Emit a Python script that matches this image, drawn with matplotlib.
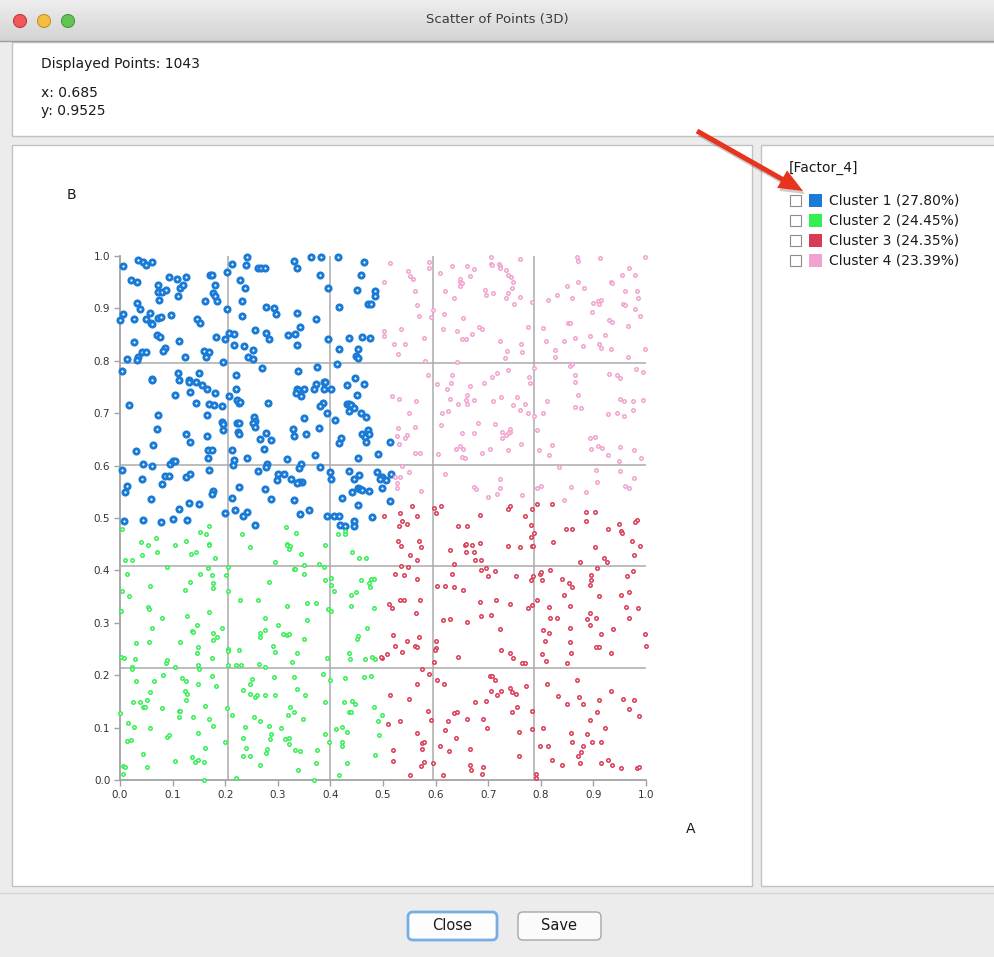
import numpy as np
import matplotlib.pyplot as plt
from matplotlib.patches import Rectangle, Circle, FancyBboxPatch, FancyArrow
from matplotlib.transforms import IdentityTransform
from matplotlib.colors import LinearSegmentedColormap

plt.rcParams['font.family'] = ['DejaVu Sans']

W, H = 995, 957

# ---- data ----
window_title = "Scatter of Points (3D)"
displayed_points = 1043
cursor_x = "0.685"
cursor_y = "0.9525"
factor_name = "[Factor_4]"
cluster_names = ["Cluster 1", "Cluster 2", "Cluster 3", "Cluster 4"]
cluster_pcts = [27.80, 24.45, 24.35, 23.39]
cluster_colors = ["#1a7bd6", "#35ee52", "#d93a54", "#f2a2d0"]
tick_values = [0.0, 0.1, 0.2, 0.3, 0.4, 0.5, 0.6, 0.7, 0.8, 0.9, 1.0]
tick_labels = ["0.0", "0.1", "0.2", "0.3", "0.4", "0.5", "0.6", "0.7", "0.8", "0.9", "1.0"]
grid_x = [0.205, 0.400, 0.596, 0.788]
grid_y = [0.213, 0.409, 0.602, 0.795]

# cluster 1 (blue)
cluster1 = [
    (0.005, 0.980), (0.035, 0.992), (0.044, 0.989), (0.049, 0.983), (0.060, 0.989), (0.020, 0.954),
    (0.033, 0.951), (0.073, 0.945), (0.073, 0.932), (0.079, 0.932), (0.087, 0.936), (0.075, 0.916),
    (0.093, 0.959), (0.108, 0.957), (0.125, 0.959), (0.110, 0.924), (0.115, 0.938), (0.120, 0.944),
    (0.171, 0.964), (0.174, 0.964), (0.203, 0.970), (0.181, 0.944), (0.177, 0.930), (0.180, 0.924),
    (0.185, 0.914), (0.162, 0.914), (0.032, 0.911), (0.038, 0.898), (0.005, 0.889), (0.000, 0.877),
    (0.027, 0.880), (0.049, 0.879), (0.057, 0.892), (0.058, 0.873), (0.061, 0.870), (0.073, 0.881),
    (0.077, 0.883), (0.097, 0.887), (0.147, 0.880), (0.152, 0.872), (0.213, 0.985), (0.240, 0.982),
    (0.242, 0.998), (0.263, 0.977), (0.269, 0.977), (0.276, 0.977), (0.330, 0.991), (0.336, 0.977),
    (0.364, 0.998), (0.382, 0.999), (0.380, 0.964), (0.396, 0.938), (0.415, 0.999), (0.463, 0.989),
    (0.459, 0.964), (0.450, 0.936), (0.485, 0.934), (0.485, 0.924), (0.472, 0.908), (0.477, 0.908),
    (0.417, 0.903), (0.373, 0.879), (0.336, 0.892), (0.342, 0.865), (0.297, 0.889), (0.292, 0.900),
    (0.278, 0.903), (0.229, 0.954), (0.238, 0.938), (0.232, 0.914), (0.204, 0.898), (0.232, 0.886),
    (0.257, 0.859), (0.277, 0.854), (0.283, 0.841), (0.320, 0.849), (0.333, 0.851), (0.336, 0.830),
    (0.396, 0.841), (0.435, 0.844), (0.461, 0.846), (0.475, 0.843), (0.417, 0.823), (0.453, 0.822),
    (0.449, 0.810), (0.453, 0.805), (0.207, 0.854), (0.216, 0.851), (0.200, 0.841), (0.183, 0.846),
    (0.217, 0.831), (0.235, 0.828), (0.252, 0.821), (0.244, 0.807), (0.252, 0.804), (0.160, 0.819),
    (0.169, 0.816), (0.164, 0.807), (0.123, 0.807), (0.113, 0.838), (0.070, 0.849), (0.076, 0.845),
    (0.086, 0.824), (0.082, 0.819), (0.041, 0.816), (0.049, 0.816), (0.035, 0.807), (0.032, 0.802),
    (0.013, 0.804), (0.027, 0.836), (0.195, 0.798), (0.270, 0.786), (0.339, 0.781), (0.374, 0.789),
    (0.412, 0.793), (0.447, 0.768), (0.221, 0.773), (0.151, 0.776), (0.131, 0.763), (0.111, 0.776),
    (0.060, 0.766), (0.003, 0.781),
    (0.387, 0.760), (0.390, 0.760), (0.373, 0.755), (0.368, 0.746), (0.336, 0.747), (0.339, 0.744),
    (0.350, 0.746), (0.335, 0.738), (0.345, 0.733), (0.402, 0.746), (0.387, 0.746), (0.431, 0.753),
    (0.463, 0.756), (0.450, 0.735), (0.432, 0.718), (0.436, 0.718), (0.440, 0.716), (0.435, 0.705),
    (0.444, 0.710), (0.459, 0.700), (0.468, 0.693), (0.393, 0.700), (0.409, 0.687), (0.385, 0.720),
    (0.380, 0.713), (0.378, 0.672), (0.350, 0.690), (0.354, 0.660), (0.328, 0.669), (0.330, 0.656),
    (0.370, 0.620), (0.345, 0.604), (0.340, 0.595), (0.380, 0.597), (0.318, 0.612), (0.282, 0.719),
    (0.255, 0.693), (0.257, 0.685), (0.252, 0.681), (0.256, 0.674), (0.278, 0.663), (0.267, 0.650),
    (0.288, 0.648), (0.273, 0.632), (0.241, 0.615), (0.217, 0.611), (0.214, 0.602), (0.213, 0.630),
    (0.208, 0.732), (0.221, 0.747), (0.222, 0.725), (0.226, 0.719), (0.228, 0.722), (0.222, 0.681),
    (0.226, 0.682), (0.193, 0.684), (0.195, 0.679), (0.195, 0.668), (0.224, 0.665), (0.227, 0.660),
    (0.193, 0.714), (0.170, 0.718), (0.179, 0.715), (0.145, 0.720), (0.165, 0.696), (0.165, 0.657),
    (0.167, 0.630), (0.175, 0.630), (0.167, 0.615), (0.170, 0.592), (0.180, 0.738), (0.166, 0.747),
    (0.156, 0.753), (0.145, 0.760), (0.131, 0.760), (0.113, 0.763), (0.105, 0.735), (0.133, 0.740),
    (0.061, 0.763), (0.018, 0.716), (0.072, 0.696), (0.070, 0.670), (0.126, 0.660), (0.133, 0.645),
    (0.062, 0.640), (0.030, 0.627), (0.043, 0.604), (0.061, 0.600), (0.096, 0.604), (0.101, 0.608),
    (0.105, 0.609), (0.003, 0.592), (0.041, 0.575), (0.013, 0.562), (0.010, 0.550), (0.080, 0.564),
    (0.085, 0.580), (0.094, 0.580), (0.126, 0.579), (0.134, 0.584), (0.176, 0.552), (0.174, 0.546),
    (0.226, 0.560), (0.213, 0.539), (0.275, 0.555), (0.288, 0.537), (0.330, 0.534), (0.263, 0.590),
    (0.279, 0.604), (0.277, 0.597), (0.301, 0.584), (0.311, 0.584), (0.299, 0.573), (0.326, 0.575),
    (0.346, 0.569), (0.341, 0.568), (0.337, 0.566), (0.399, 0.587), (0.402, 0.574), (0.435, 0.590),
    (0.445, 0.574), (0.454, 0.582), (0.488, 0.588), (0.498, 0.578), (0.494, 0.574), (0.498, 0.557),
    (0.491, 0.622), (0.453, 0.615), (0.420, 0.653), (0.417, 0.643), (0.461, 0.660), (0.466, 0.655),
    (0.468, 0.645), (0.472, 0.667), (0.474, 0.660), (0.452, 0.557), (0.456, 0.555), (0.460, 0.553),
    (0.473, 0.552), (0.442, 0.550), (0.423, 0.539), (0.452, 0.524), (0.058, 0.537), (0.113, 0.517),
    (0.131, 0.529), (0.151, 0.527), (0.200, 0.509), (0.219, 0.515), (0.242, 0.511), (0.359, 0.515),
    (0.342, 0.508),
    (0.513, 0.645), (0.505, 0.573), (0.516, 0.584), (0.513, 0.532),
    (0.008, 0.494), (0.044, 0.497), (0.077, 0.492), (0.100, 0.499), (0.128, 0.497), (0.233, 0.504),
    (0.257, 0.487), (0.393, 0.504), (0.407, 0.504), (0.417, 0.504), (0.418, 0.487), (0.428, 0.484),
    (0.444, 0.494), (0.444, 0.484), (0.480, 0.501),
]

# cluster 2 (green)
cluster2 = [
    (0.003, 0.479), (0.010, 0.419), (0.022, 0.419), (0.040, 0.454), (0.053, 0.448), (0.068, 0.461),
    (0.070, 0.436), (0.042, 0.429), (0.105, 0.448), (0.126, 0.457), (0.135, 0.431), (0.145, 0.436),
    (0.152, 0.474), (0.163, 0.469), (0.170, 0.484), (0.170, 0.451), (0.170, 0.448), (0.180, 0.424),
    (0.232, 0.469), (0.247, 0.444), (0.315, 0.482), (0.317, 0.451), (0.318, 0.448), (0.323, 0.447),
    (0.321, 0.441), (0.335, 0.471), (0.345, 0.431), (0.295, 0.416), (0.350, 0.411), (0.330, 0.403),
    (0.333, 0.403), (0.378, 0.413), (0.388, 0.406), (0.390, 0.448), (0.415, 0.469), (0.428, 0.475),
    (0.428, 0.469), (0.441, 0.436), (0.455, 0.424), (0.468, 0.424), (0.090, 0.406), (0.167, 0.404),
    (0.205, 0.406), (0.013, 0.393), (0.057, 0.371), (0.003, 0.361), (0.018, 0.351), (0.134, 0.378),
    (0.123, 0.363), (0.152, 0.394), (0.175, 0.391), (0.177, 0.376), (0.177, 0.366), (0.202, 0.391),
    (0.205, 0.361), (0.283, 0.378), (0.350, 0.393), (0.390, 0.381), (0.402, 0.386), (0.402, 0.373),
    (0.406, 0.361), (0.440, 0.353), (0.448, 0.358), (0.458, 0.381), (0.473, 0.376), (0.475, 0.368),
    (0.478, 0.384), (0.483, 0.384), (0.002, 0.323), (0.053, 0.331), (0.055, 0.326), (0.080, 0.310),
    (0.128, 0.313), (0.147, 0.296), (0.170, 0.321), (0.060, 0.291), (0.137, 0.285), (0.138, 0.283),
    (0.193, 0.291), (0.177, 0.281), (0.177, 0.268), (0.185, 0.273), (0.030, 0.261), (0.055, 0.263),
    (0.115, 0.263), (0.228, 0.343), (0.263, 0.343), (0.318, 0.333), (0.356, 0.338), (0.373, 0.338),
    (0.395, 0.326), (0.402, 0.323), (0.440, 0.333), (0.483, 0.328), (0.275, 0.310), (0.300, 0.296),
    (0.355, 0.305), (0.276, 0.286), (0.267, 0.280), (0.266, 0.273), (0.309, 0.278), (0.317, 0.277),
    (0.321, 0.278), (0.350, 0.270), (0.470, 0.291), (0.453, 0.275), (0.450, 0.270), (0.148, 0.253),
    (0.205, 0.250), (0.290, 0.256),
    (0.001, 0.235), (0.008, 0.233), (0.028, 0.230), (0.023, 0.215), (0.023, 0.211), (0.030, 0.188),
    (0.057, 0.167), (0.065, 0.188), (0.081, 0.200), (0.080, 0.137), (0.038, 0.149), (0.043, 0.139),
    (0.048, 0.140), (0.052, 0.153), (0.025, 0.148), (0.105, 0.215), (0.087, 0.223), (0.089, 0.229),
    (0.146, 0.243), (0.148, 0.219), (0.150, 0.211), (0.175, 0.233), (0.117, 0.195), (0.125, 0.188),
    (0.124, 0.170), (0.127, 0.165), (0.125, 0.153), (0.148, 0.183), (0.175, 0.198), (0.183, 0.180),
    (0.162, 0.142), (0.112, 0.121), (0.113, 0.131), (0.114, 0.132), (0.138, 0.120), (0.170, 0.117),
    (0.177, 0.104), (0.148, 0.090), (0.000, 0.127), (0.015, 0.108), (0.027, 0.102), (0.057, 0.099),
    (0.089, 0.083), (0.093, 0.085), (0.020, 0.076), (0.013, 0.074), (0.044, 0.049), (0.052, 0.024),
    (0.005, 0.027), (0.010, 0.024), (0.005, 0.011), (0.105, 0.037), (0.137, 0.043), (0.142, 0.034),
    (0.148, 0.038), (0.160, 0.034), (0.162, 0.062), (0.160, 0.000), (0.200, 0.072), (0.204, 0.137),
    (0.212, 0.124), (0.221, 0.003), (0.234, 0.172), (0.237, 0.102), (0.234, 0.080), (0.240, 0.062),
    (0.234, 0.046), (0.247, 0.046), (0.247, 0.183), (0.251, 0.193), (0.247, 0.165), (0.257, 0.158),
    (0.260, 0.163), (0.255, 0.120), (0.267, 0.112), (0.267, 0.029), (0.275, 0.163), (0.278, 0.052),
    (0.280, 0.059), (0.283, 0.104), (0.285, 0.078), (0.288, 0.087), (0.293, 0.197), (0.295, 0.163),
    (0.307, 0.099), (0.314, 0.078), (0.319, 0.124), (0.322, 0.069), (0.322, 0.080), (0.323, 0.140),
    (0.330, 0.130), (0.330, 0.197), (0.336, 0.174), (0.333, 0.057), (0.342, 0.055), (0.338, 0.019),
    (0.347, 0.117), (0.351, 0.163), (0.374, 0.057), (0.373, 0.032), (0.368, 0.000), (0.385, 0.202),
    (0.390, 0.148), (0.390, 0.087), (0.398, 0.073), (0.400, 0.190), (0.411, 0.097), (0.417, 0.009),
    (0.422, 0.064), (0.423, 0.073), (0.423, 0.102), (0.428, 0.195), (0.425, 0.148), (0.432, 0.092),
    (0.432, 0.032), (0.435, 0.130), (0.439, 0.130), (0.441, 0.151), (0.447, 0.145), (0.463, 0.197),
    (0.477, 0.198), (0.482, 0.140), (0.485, 0.047), (0.491, 0.112), (0.493, 0.085), (0.498, 0.125),
    (0.327, 0.225), (0.336, 0.243), (0.393, 0.233), (0.435, 0.243), (0.437, 0.230), (0.465, 0.230),
    (0.480, 0.235), (0.485, 0.230), (0.205, 0.219), (0.221, 0.219), (0.230, 0.219), (0.265, 0.222),
    (0.276, 0.215), (0.295, 0.245), (0.205, 0.247), (0.226, 0.248),
]

# cluster 3 (red)
cluster3 = [
    (0.555, 0.522), (0.532, 0.509), (0.597, 0.519), (0.610, 0.522), (0.600, 0.509), (0.741, 0.522),
    (0.738, 0.517), (0.685, 0.506), (0.783, 0.517), (0.792, 0.527), (0.822, 0.527), (0.886, 0.512),
    (0.903, 0.512),
    (0.502, 0.504), (0.565, 0.504), (0.537, 0.494), (0.545, 0.489), (0.530, 0.484), (0.528, 0.457),
    (0.568, 0.457), (0.535, 0.447), (0.573, 0.444), (0.552, 0.429), (0.565, 0.419), (0.535, 0.408),
    (0.547, 0.406), (0.523, 0.393), (0.540, 0.391), (0.565, 0.384), (0.512, 0.336), (0.517, 0.328),
    (0.533, 0.343), (0.540, 0.343), (0.570, 0.343), (0.562, 0.318), (0.519, 0.276), (0.568, 0.273),
    (0.523, 0.256), (0.545, 0.266), (0.560, 0.256), (0.565, 0.253), (0.642, 0.484), (0.660, 0.484),
    (0.655, 0.448), (0.657, 0.451), (0.670, 0.448), (0.685, 0.452), (0.657, 0.436), (0.673, 0.436),
    (0.627, 0.439), (0.635, 0.413), (0.675, 0.419), (0.687, 0.419), (0.687, 0.401), (0.695, 0.404),
    (0.700, 0.389), (0.713, 0.398), (0.632, 0.393), (0.602, 0.371), (0.618, 0.371), (0.635, 0.368),
    (0.652, 0.363), (0.684, 0.340), (0.715, 0.343), (0.742, 0.336), (0.686, 0.313), (0.705, 0.315),
    (0.627, 0.308), (0.614, 0.305), (0.660, 0.301), (0.722, 0.288), (0.600, 0.265), (0.600, 0.251),
    (0.737, 0.447), (0.760, 0.444), (0.770, 0.504), (0.782, 0.487), (0.787, 0.471), (0.782, 0.464),
    (0.784, 0.447), (0.786, 0.447), (0.753, 0.389), (0.786, 0.389), (0.782, 0.381), (0.798, 0.394),
    (0.801, 0.396), (0.803, 0.381), (0.817, 0.401), (0.823, 0.454), (0.848, 0.479), (0.860, 0.479),
    (0.885, 0.494), (0.903, 0.444), (0.928, 0.479), (0.948, 0.489), (0.952, 0.476), (0.955, 0.471),
    (0.973, 0.457), (0.982, 0.496), (0.980, 0.492), (0.988, 0.447), (0.978, 0.429), (0.920, 0.424),
    (0.925, 0.416), (0.875, 0.416), (0.907, 0.404), (0.895, 0.391), (0.895, 0.381), (0.893, 0.373),
    (0.840, 0.384), (0.853, 0.376), (0.860, 0.368), (0.845, 0.353), (0.910, 0.351), (0.953, 0.353),
    (0.968, 0.358), (0.976, 0.399), (0.963, 0.389), (0.792, 0.343), (0.784, 0.334), (0.775, 0.328),
    (0.815, 0.331), (0.855, 0.333), (0.893, 0.318), (0.905, 0.310), (0.888, 0.308), (0.893, 0.295),
    (0.962, 0.331), (0.985, 0.328), (0.968, 0.310), (0.817, 0.310), (0.830, 0.310), (0.855, 0.291),
    (0.938, 0.288), (0.915, 0.278), (0.998, 0.278), (0.805, 0.286), (0.815, 0.280), (0.808, 0.265),
    (0.855, 0.263), (0.905, 0.253), (0.910, 0.253), (1.000, 0.256),
    (0.498, 0.233),
    (0.497, 0.234), (0.507, 0.240), (0.537, 0.245), (0.598, 0.248), (0.597, 0.225), (0.643, 0.235),
    (0.725, 0.248), (0.742, 0.243), (0.747, 0.233), (0.765, 0.223), (0.770, 0.223), (0.803, 0.240),
    (0.810, 0.228), (0.858, 0.243), (0.850, 0.223), (0.933, 0.243), (0.575, 0.212), (0.588, 0.202),
    (0.565, 0.183), (0.513, 0.162), (0.550, 0.155), (0.603, 0.190), (0.616, 0.184), (0.585, 0.132),
    (0.592, 0.115), (0.532, 0.112), (0.510, 0.107), (0.565, 0.090), (0.575, 0.070), (0.578, 0.073),
    (0.575, 0.059), (0.519, 0.057), (0.519, 0.037), (0.578, 0.034), (0.573, 0.027), (0.552, 0.009),
    (0.595, 0.032), (0.614, 0.009), (0.618, 0.095), (0.623, 0.113), (0.635, 0.127), (0.640, 0.130),
    (0.638, 0.080), (0.608, 0.064), (0.625, 0.055), (0.660, 0.117), (0.665, 0.059), (0.665, 0.029),
    (0.668, 0.019), (0.675, 0.148), (0.690, 0.117), (0.698, 0.100), (0.696, 0.150), (0.690, 0.024),
    (0.688, 0.011), (0.703, 0.198), (0.708, 0.198), (0.713, 0.190), (0.706, 0.170), (0.716, 0.163),
    (0.725, 0.170), (0.741, 0.175), (0.746, 0.167), (0.753, 0.165), (0.755, 0.140), (0.746, 0.130),
    (0.771, 0.180), (0.783, 0.132), (0.783, 0.097), (0.758, 0.092), (0.758, 0.045), (0.791, 0.011),
    (0.791, 0.004), (0.811, 0.184), (0.833, 0.160), (0.850, 0.145), (0.868, 0.190), (0.873, 0.158),
    (0.881, 0.145), (0.805, 0.100), (0.798, 0.064), (0.813, 0.064), (0.822, 0.039), (0.840, 0.029),
    (0.858, 0.090), (0.860, 0.072), (0.877, 0.054), (0.880, 0.064), (0.870, 0.045), (0.875, 0.032),
    (0.888, 0.087), (0.898, 0.072), (0.893, 0.115), (0.907, 0.130), (0.910, 0.153), (0.915, 0.072),
    (0.915, 0.032), (0.922, 0.100), (0.928, 0.039), (0.935, 0.029), (0.934, 0.170), (0.957, 0.155),
    (0.968, 0.135), (0.977, 0.153), (0.986, 0.122), (0.953, 0.022), (0.983, 0.022), (0.986, 0.024),
]

# cluster 4 (pink)
cluster4 = [
    (0.513, 0.986), (0.502, 0.951), (0.548, 0.971), (0.552, 0.962), (0.557, 0.956), (0.561, 0.934),
    (0.565, 0.907), (0.568, 0.886), (0.588, 0.989), (0.588, 0.977), (0.608, 0.967), (0.595, 0.896),
    (0.592, 0.883), (0.502, 0.856), (0.502, 0.848), (0.535, 0.861), (0.521, 0.833), (0.542, 0.833),
    (0.529, 0.813), (0.578, 0.843), (0.580, 0.800), (0.585, 0.773), (0.632, 0.980), (0.660, 0.980),
    (0.673, 0.975), (0.665, 0.962), (0.647, 0.956), (0.647, 0.950), (0.651, 0.949), (0.647, 0.942),
    (0.618, 0.934), (0.635, 0.919), (0.616, 0.889), (0.652, 0.881), (0.614, 0.861), (0.640, 0.856),
    (0.650, 0.841), (0.657, 0.841), (0.670, 0.851), (0.682, 0.865), (0.688, 0.861), (0.640, 0.798),
    (0.632, 0.773), (0.705, 0.999), (0.705, 0.984), (0.708, 0.982), (0.721, 0.984), (0.722, 0.981),
    (0.723, 0.977), (0.734, 0.973), (0.738, 0.964), (0.744, 0.959), (0.747, 0.951), (0.745, 0.938),
    (0.738, 0.929), (0.734, 0.919), (0.750, 0.908), (0.760, 0.921), (0.760, 0.994), (0.709, 0.929),
    (0.694, 0.936), (0.695, 0.926), (0.775, 0.865), (0.784, 0.913), (0.722, 0.838), (0.735, 0.818),
    (0.732, 0.806), (0.763, 0.833), (0.765, 0.816), (0.738, 0.783), (0.717, 0.777), (0.708, 0.770),
    (0.778, 0.770), (0.787, 0.786), (0.868, 0.999), (0.871, 0.991), (0.912, 0.997), (0.998, 0.999),
    (0.968, 0.977), (0.955, 0.964), (0.980, 0.964), (0.933, 0.951), (0.936, 0.949), (0.871, 0.951),
    (0.850, 0.942), (0.883, 0.939), (0.830, 0.926), (0.860, 0.919), (0.813, 0.916), (0.900, 0.911),
    (0.909, 0.914), (0.915, 0.916), (0.910, 0.908), (0.898, 0.894), (0.957, 0.908), (0.960, 0.906),
    (0.980, 0.898), (0.985, 0.919), (0.988, 0.886), (0.983, 0.934), (0.960, 0.934), (0.930, 0.878),
    (0.936, 0.875), (0.852, 0.873), (0.855, 0.872), (0.805, 0.863), (0.965, 0.866), (0.923, 0.849),
    (0.893, 0.848), (0.865, 0.844), (0.845, 0.838), (0.810, 0.838), (0.827, 0.821), (0.827, 0.808),
    (0.881, 0.828), (0.910, 0.833), (0.915, 0.825), (0.933, 0.823), (0.998, 0.823), (0.965, 0.808),
    (0.855, 0.791), (0.860, 0.793), (0.865, 0.772), (0.930, 0.775), (0.945, 0.772), (0.950, 0.768),
    (0.981, 0.784), (0.995, 0.778),
    (0.603, 0.756), (0.630, 0.758), (0.665, 0.751), (0.692, 0.758), (0.780, 0.758), (0.865, 0.760),
    (0.621, 0.746), (0.660, 0.735), (0.627, 0.728), (0.657, 0.725), (0.660, 0.718), (0.642, 0.718),
    (0.673, 0.725), (0.709, 0.723), (0.725, 0.730), (0.755, 0.730), (0.747, 0.715), (0.760, 0.707),
    (0.770, 0.718), (0.775, 0.700), (0.787, 0.695), (0.805, 0.700), (0.812, 0.723), (0.870, 0.735),
    (0.865, 0.712), (0.877, 0.710), (0.950, 0.728), (0.958, 0.723), (0.976, 0.723), (0.995, 0.725),
    (0.976, 0.707), (0.927, 0.698), (0.945, 0.700), (0.958, 0.695), (0.613, 0.700), (0.623, 0.705),
    (0.517, 0.733), (0.530, 0.728), (0.562, 0.723), (0.550, 0.700), (0.560, 0.674), (0.528, 0.672),
    (0.545, 0.658), (0.542, 0.652), (0.526, 0.657), (0.530, 0.642), (0.560, 0.625), (0.570, 0.625),
    (0.610, 0.678), (0.680, 0.682), (0.713, 0.680), (0.741, 0.669), (0.742, 0.665), (0.727, 0.665),
    (0.738, 0.662), (0.734, 0.658), (0.727, 0.652), (0.673, 0.663), (0.650, 0.663), (0.763, 0.642),
    (0.792, 0.667), (0.822, 0.640), (0.647, 0.637), (0.652, 0.632), (0.638, 0.632), (0.605, 0.622),
    (0.688, 0.625), (0.703, 0.632), (0.737, 0.630), (0.650, 0.617), (0.655, 0.615), (0.796, 0.630),
    (0.815, 0.620), (0.893, 0.652), (0.903, 0.655), (0.895, 0.632), (0.908, 0.637), (0.916, 0.634),
    (0.950, 0.635), (0.927, 0.620), (0.948, 0.609), (0.978, 0.630), (0.990, 0.615), (0.537, 0.599),
    (0.550, 0.587), (0.532, 0.579), (0.523, 0.579), (0.527, 0.567), (0.527, 0.557), (0.572, 0.552),
    (0.618, 0.584), (0.673, 0.559), (0.677, 0.555), (0.722, 0.575), (0.722, 0.557), (0.700, 0.541),
    (0.717, 0.545), (0.765, 0.544), (0.792, 0.557), (0.800, 0.562), (0.835, 0.597), (0.845, 0.534),
    (0.857, 0.559), (0.885, 0.550), (0.905, 0.592), (0.907, 0.569), (0.950, 0.590), (0.978, 0.577),
    (0.960, 0.562), (0.967, 0.557),
]

clusters = [cluster1, cluster2, cluster3, cluster4]

# ---- figure / window chrome ----
fig = plt.figure(figsize=(W / 100, H / 100), dpi=100)
fig.patch.set_facecolor('#ececec')
px = IdentityTransform()


def box(x0, y0, x1, y1, fc='white', ec='#c2c2c2', lw=1.0, z=-5):
    fig.add_artist(Rectangle((x0, H - y1), x1 - x0, y1 - y0, transform=px,
                             fc=fc, ec=ec, lw=lw, zorder=z))


# title bar
ax_t = fig.add_axes([0, 1 - 41 / H, 1, 41 / H], zorder=-4)
grad = np.linspace(0, 1, 64).reshape(-1, 1)
ax_t.imshow(grad, aspect='auto', extent=[0, 1, 0, 1],
            cmap=LinearSegmentedColormap.from_list('bar', ['#eeeeee', '#d3d3d3']))
ax_t.axis('off')
fig.add_artist(plt.Line2D([0, W], [H - 41, H - 41], transform=px, color='#9c9c9c', lw=1, zorder=-3))
fig.text(W / 2, H - 20, window_title, transform=px, ha='center', va='center',
         fontsize=9.5, color='#3c3c3c')
for cx, fc, ec in [(20, '#f0585b', '#c0393d'), (44, '#f5bd42', '#c4902b'), (68, '#63c556', '#3e9a38')]:
    fig.add_artist(Circle((cx, H - 21), 6.5, transform=px, fc=fc, ec=ec, lw=0.8, zorder=2))

# panels
box(12, 42, 1000, 136)
box(12, 145, 752, 886)
box(761, 145, 1000, 886)
fig.add_artist(plt.Line2D([0, W], [H - 893, H - 893], transform=px, color='#d4d4d4', lw=1, zorder=-3))

# info text
fig.text(41, H - 64, f"Displayed Points: {displayed_points}", transform=px, va='center', fontsize=10, color='#1a1a1a')
fig.text(41, H - 93, f"x: {cursor_x}", transform=px, va='center', fontsize=10, color='#1a1a1a')
fig.text(41, H - 111, f"y: {cursor_y}", transform=px, va='center', fontsize=10, color='#1a1a1a')

# legend
fig.text(789, H - 168, factor_name, transform=px, va='center', fontsize=10, color='#1a1a1a')
for i, (name, pct, col) in enumerate(zip(cluster_names, cluster_pcts, cluster_colors)):
    yc = 200 + i * 20
    fig.add_artist(Rectangle((790, H - yc - 5.5), 11, 11, transform=px, fc='white', ec='#8c8c8c', lw=0.8, zorder=2))
    fig.add_artist(Rectangle((809, H - yc - 6.5), 13, 13, transform=px, fc=col, ec='none', zorder=2))
    fig.text(829, H - yc, f"{name} ({pct:.2f}%)", transform=px, va='center', fontsize=10, color='#1a1a1a')

# red arrow pointing at the legend
fig.add_artist(FancyArrow(699, H - 134, 106, -60, width=5, head_width=20, head_length=24,
                          length_includes_head=True, transform=px, fc='#00000033', ec='none', zorder=9))
fig.add_artist(FancyArrow(697, H - 131, 106, -60, width=5, head_width=20, head_length=24,
                          length_includes_head=True, transform=px, fc='#e8331f', ec='none', zorder=10))

# buttons
fig.add_artist(FancyBboxPatch((408, H - 940), 89, 28, boxstyle='round,pad=0,rounding_size=5',
                              transform=px, fc='#fdfdfd', ec='#78aee6', lw=2, zorder=2))
fig.add_artist(FancyBboxPatch((518, H - 940), 83, 28, boxstyle='round,pad=0,rounding_size=5',
                              transform=px, fc='#fbfbfb', ec='#a6a6a6', lw=1, zorder=2))
fig.text(452, H - 925, "Close", transform=px, ha='center', va='center', fontsize=10.5, color='#1a1a1a')
fig.text(559, H - 925, "Save", transform=px, ha='center', va='center', fontsize=10.5, color='#1a1a1a')

# axis letters
fig.text(71, H - 195, "B", transform=px, ha='center', va='center', fontsize=10, color='#1a1a1a')
fig.text(691, H - 829, "A", transform=px, ha='center', va='center', fontsize=10, color='#1a1a1a')

# ---- scatter ----
ax = fig.add_axes([120 / W, 1 - 780 / H, 526 / W, 524 / H])
ax.set_xlim(0, 1)
ax.set_ylim(0, 1)
ax.set_facecolor('white')
for s in ['top', 'right']:
    ax.spines[s].set_visible(False)
for s in ['left', 'bottom']:
    ax.spines[s].set_color('#a3a3a3')
    ax.spines[s].set_linewidth(1.3)
ax.set_xticks(tick_values)
ax.set_xticklabels(tick_labels)
ax.set_yticks(tick_values)
ax.set_yticklabels(tick_labels)
ax.tick_params(length=4, width=1, color='#a3a3a3', labelsize=7.5, labelcolor='#333333', pad=3)

for g in grid_x:
    ax.axvline(g, color='#ababab', lw=1.1, zorder=1)
for g in grid_y:
    ax.axhline(g, color='#ababab', lw=1.1, zorder=1)

for k, (pts, col) in enumerate(zip(clusters, cluster_colors)):
    xs = [p[0] for p in pts]
    ys = [p[1] for p in pts]
    if k == 0:
        ax.scatter(xs, ys, s=14, facecolors='white', edgecolors=col, linewidths=2.1,
                   zorder=3, clip_on=False)
    else:
        ax.scatter(xs, ys, s=6, facecolors='white', edgecolors=col, linewidths=1.1,
                   zorder=3, clip_on=False)

fig.savefig('out.png', dpi=100, facecolor=fig.get_facecolor())
